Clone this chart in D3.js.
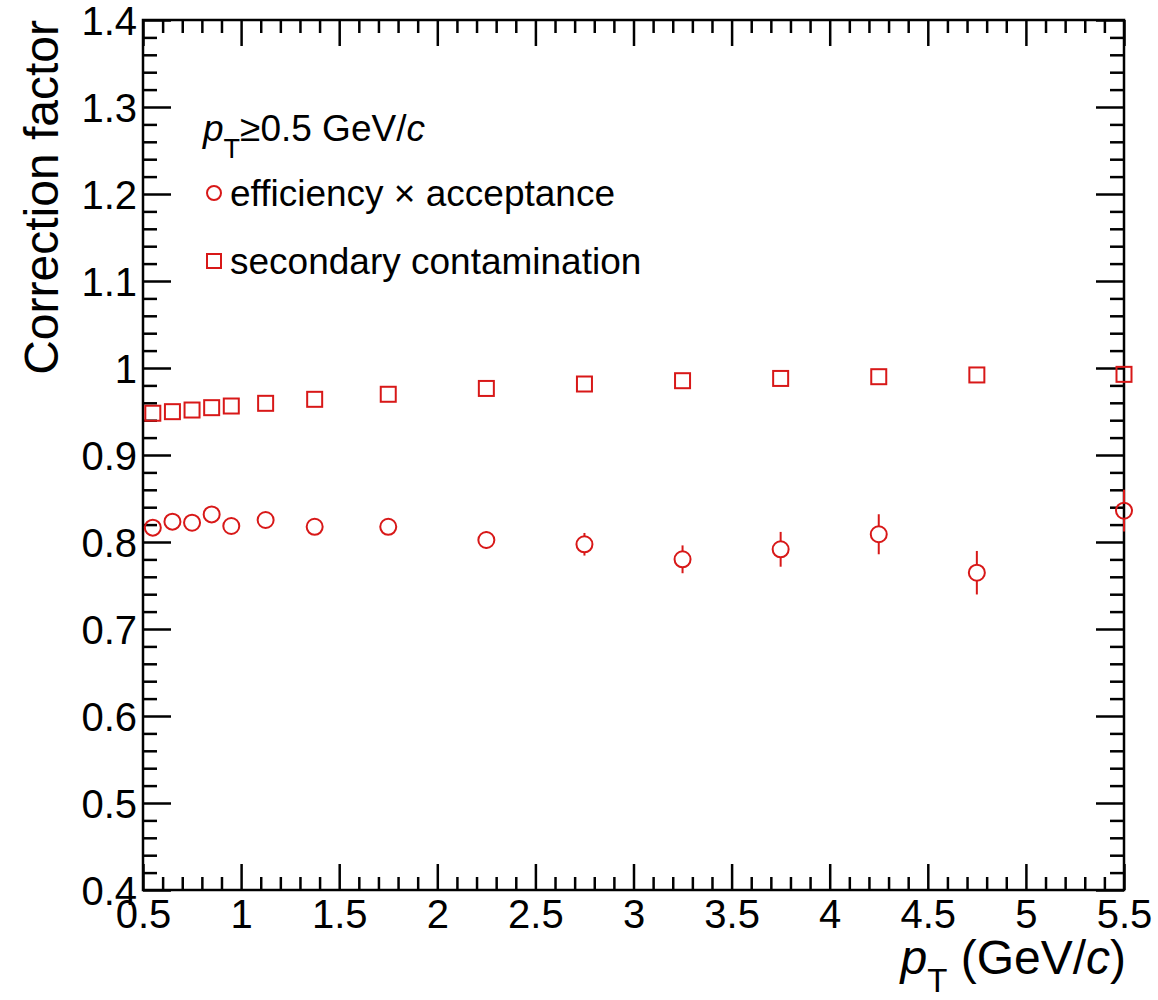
<!DOCTYPE html>
<html>
<head>
<meta charset="utf-8">
<script src="https://cdn.jsdelivr.net/npm/d3@7"></script>
<style>
  html, body { margin: 0; padding: 0; background: #fff; }
  svg { display: block; font-family: "Liberation Sans", Arial, Helvetica, sans-serif; }
</style>
</head>
<body>
<svg id="chart" width="1158" height="1000"></svg>
<script>
// Bin centres in pT (GeV/c)
const ptBins = [0.55, 0.65, 0.75, 0.85, 0.95, 1.125, 1.375, 1.75, 2.25, 2.75, 3.25, 3.75, 4.25, 4.75, 5.5];

// Efficiency x acceptance and its statistical uncertainty
const effAcc    = [0.8165, 0.8234, 0.8222, 0.8317, 0.8184, 0.8253, 0.8175, 0.8175, 0.8023, 0.7974, 0.7801, 0.7916, 0.8089, 0.7647, 0.836];
const effAccErr = [0.002, 0.002, 0.002, 0.002, 0.003, 0.003, 0.004, 0.006, 0.010, 0.013, 0.016, 0.020, 0.023, 0.025, 0.024];

// Secondary contamination correction
const secCont = [0.948, 0.9498, 0.9517, 0.9544, 0.9563, 0.9594, 0.964, 0.9698, 0.9765, 0.9816, 0.9854, 0.988, 0.990, 0.992, 0.9927];

// Axis tick labels
const xTickValues = [0.5, 1, 1.5, 2, 2.5, 3, 3.5, 4, 4.5, 5, 5.5];
const xTickLabels = ["0.5", "1", "1.5", "2", "2.5", "3", "3.5", "4", "4.5", "5", "5.5"];
const yTickValues = [0.4, 0.5, 0.6, 0.7, 0.8, 0.9, 1.0, 1.1, 1.2, 1.3, 1.4];
const yTickLabels = ["0.4", "0.5", "0.6", "0.7", "0.8", "0.9", "1", "1.1", "1.2", "1.3", "1.4"];

const legendLabels = ["efficiency \u00d7 acceptance", "secondary contamination"];

const frame = { left: 143, right: 1124, top: 20, bottom: 890 };
const red = "#d81818";

const svg = d3.select("#chart");

const x = d3.scaleLinear().domain([0.5, 5.5]).range([frame.left, frame.right]);
const y = d3.scaleLinear().domain([0.4, 1.4]).range([frame.bottom, frame.top]);

const xMinor = d3.range(0, 51).map(i => 0.5 + i * 0.1).filter(v => !xTickValues.some(t => Math.abs(t - v) < 1e-6));
const yMinor = d3.range(0, 51).map(i => 0.4 + i * 0.02).filter(v => !yTickValues.some(t => Math.abs(t - v) < 1e-6));

const tickStroke = 2.5;

function styleAxis(g) {
  g.select(".domain").remove();
  g.selectAll(".tick line").attr("stroke", "#000").attr("stroke-width", tickStroke);
  g.selectAll(".tick text").attr("fill", "#000");
}

// Bottom axis: major with labels, minor without
svg.append("g")
  .attr("transform", `translate(0,${frame.bottom})`)
  .call(d3.axisTop(x).tickValues(xTickValues).tickSize(26).tickFormat((d, i) => xTickLabels[i]))
  .call(styleAxis)
  .call(g => g.selectAll(".tick text")
    .attr("y", 38).attr("dy", 0).attr("font-size", 40).attr("text-anchor", "middle"));
svg.append("g")
  .attr("transform", `translate(0,${frame.bottom})`)
  .call(d3.axisTop(x).tickValues(xMinor).tickSize(13).tickFormat(""))
  .call(styleAxis);

// Top axis ticks (mirrored)
svg.append("g")
  .attr("transform", `translate(0,${frame.top})`)
  .call(d3.axisBottom(x).tickValues(xTickValues).tickSize(26).tickFormat(""))
  .call(styleAxis);
svg.append("g")
  .attr("transform", `translate(0,${frame.top})`)
  .call(d3.axisBottom(x).tickValues(xMinor).tickSize(13).tickFormat(""))
  .call(styleAxis);

// Left axis
svg.append("g")
  .attr("transform", `translate(${frame.left},0)`)
  .call(d3.axisRight(y).tickValues(yTickValues).tickSize(28).tickFormat((d, i) => yTickLabels[i]))
  .call(styleAxis)
  .call(g => g.selectAll(".tick text")
    .attr("x", -6).attr("dy", "0.36em").attr("font-size", 40).attr("text-anchor", "end"));
svg.append("g")
  .attr("transform", `translate(${frame.left},0)`)
  .call(d3.axisRight(y).tickValues(yMinor).tickSize(14).tickFormat(""))
  .call(styleAxis);

// Right axis ticks (mirrored)
svg.append("g")
  .attr("transform", `translate(${frame.right},0)`)
  .call(d3.axisLeft(y).tickValues(yTickValues).tickSize(28).tickFormat(""))
  .call(styleAxis);
svg.append("g")
  .attr("transform", `translate(${frame.right},0)`)
  .call(d3.axisLeft(y).tickValues(yMinor).tickSize(14).tickFormat(""))
  .call(styleAxis);

// Frame
svg.append("rect")
  .attr("x", frame.left).attr("y", frame.top)
  .attr("width", frame.right - frame.left).attr("height", frame.bottom - frame.top)
  .attr("fill", "none").attr("stroke", "#000").attr("stroke-width", 2.5);

// Axis titles
svg.append("text")
  .attr("transform", `translate(58,${frame.top}) rotate(-90)`)
  .attr("text-anchor", "end")
  .attr("font-size", 48)
  .text("Correction factor");

const xTitle = svg.append("text")
  .attr("x", frame.right + 2).attr("y", 974)
  .attr("text-anchor", "end")
  .attr("font-size", 48);
xTitle.append("tspan").attr("font-style", "italic").text("p");
xTitle.append("tspan").attr("font-size", 33).attr("dy", 18).text("T");
xTitle.append("tspan").attr("dy", -18).text(" (GeV/");
xTitle.append("tspan").attr("font-style", "italic").text("c");
xTitle.append("tspan").text(")");

const markR = 8;
const sq = 15;

// Efficiency x acceptance: error bars drawn outside the marker, then open circles
const effData = ptBins.map((p, i) => ({ p, v: effAcc[i], e: effAccErr[i] }));
const effG = svg.append("g").attr("stroke", red).attr("stroke-width", 2).attr("fill", "none");
effData.forEach(d => {
  const cy = y(d.v), cx = x(d.p);
  const top = y(d.v + d.e), bot = y(d.v - d.e);
  if (cy - top > markR) effG.append("line").attr("x1", cx).attr("x2", cx).attr("y1", top).attr("y2", cy - markR);
  if (bot - cy > markR) effG.append("line").attr("x1", cx).attr("x2", cx).attr("y1", cy + markR).attr("y2", bot);
});
effG.selectAll("circle").data(effData).join("circle")
  .attr("cx", d => x(d.p)).attr("cy", d => y(d.v)).attr("r", markR);

// Secondary contamination: open squares
const secData = ptBins.map((p, i) => ({ p, v: secCont[i] }));
svg.append("g").attr("stroke", red).attr("stroke-width", 2).attr("fill", "none")
  .selectAll("rect").data(secData).join("rect")
  .attr("x", d => x(d.p) - sq / 2).attr("y", d => y(d.v) - sq / 2)
  .attr("width", sq).attr("height", sq);

// Legend
const header = svg.append("text").attr("x", 203).attr("y", 141).attr("font-size", 37);
header.append("tspan").attr("font-style", "italic").text("p");
header.append("tspan").attr("font-size", 27).attr("dy", 17).text("T");
header.append("tspan").attr("dy", -17).text("\u22650.5 GeV/");
header.append("tspan").attr("font-style", "italic").text("c");

const legG = svg.append("g");
legG.append("circle").attr("cx", 214).attr("cy", 193).attr("r", 7)
  .attr("fill", "none").attr("stroke", red).attr("stroke-width", 2);
legG.append("text").attr("x", 230).attr("y", 206).attr("font-size", 37).text(legendLabels[0]);
legG.append("rect").attr("x", 214 - 7).attr("y", 261 - 7).attr("width", 14).attr("height", 14)
  .attr("fill", "none").attr("stroke", red).attr("stroke-width", 2);
legG.append("text").attr("x", 230).attr("y", 274).attr("font-size", 37).text(legendLabels[1]);
</script>
</body>
</html>
